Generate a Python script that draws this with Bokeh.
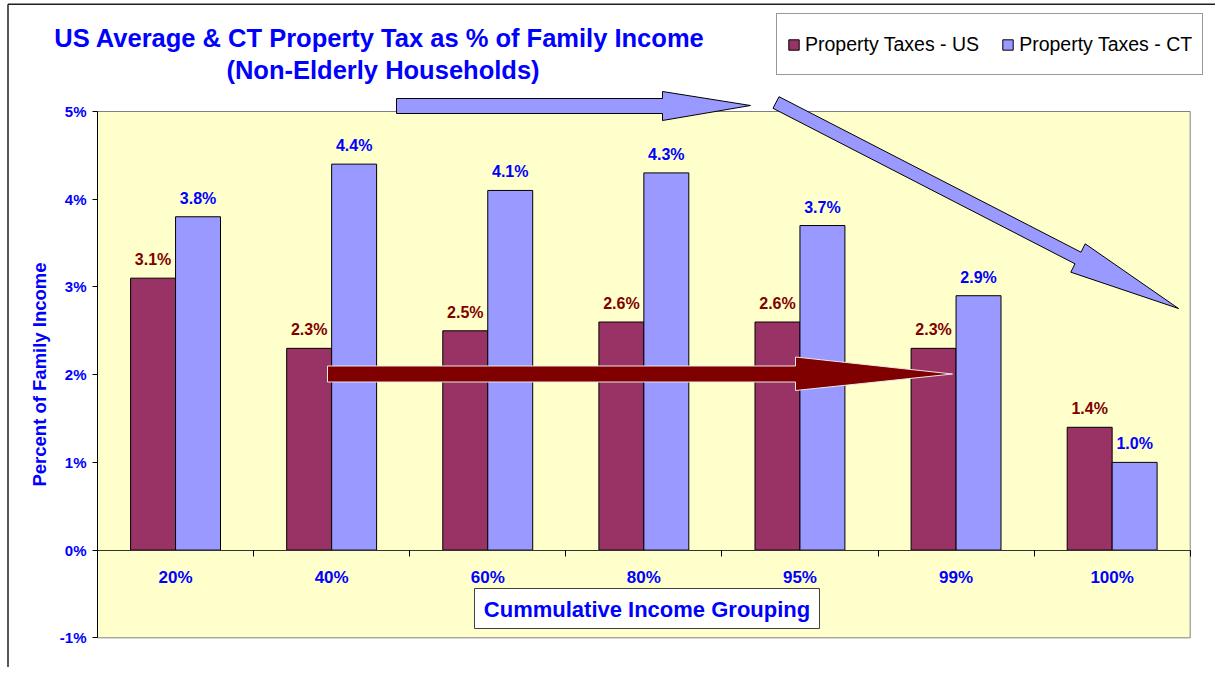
from bokeh.plotting import figure
from bokeh.models import Label, FixedTicker, PrintfTickFormatter, LinearAxis
from bokeh.embed import file_html
from bokeh.resources import INLINE
from bokeh.core.properties import value

# ---------------- data ----------------
categories = ["20%", "40%", "60%", "80%", "95%", "99%", "100%"]
us_values = [3.1, 2.3, 2.5, 2.6, 2.6, 2.3, 1.4]
ct_values = [3.8, 4.4, 4.1, 4.3, 3.7, 2.9, 1.0]
y_ticks = [-1, 0, 1, 2, 3, 4, 5]
series_names = ["Property Taxes - US", "Property Taxes - CT"]
title_lines = ["US Average & CT  Property Tax as % of Family Income",
               "(Non-Elderly Households)"]
x_title = "Cummulative Income Grouping"
y_title = "Percent of Family Income"

# ---------------- layout / style ----------------
FONT = "Liberation Sans"
BLUE = "#0000FF"
DARKRED = "#800000"
US_COLOR = "#993366"
CT_COLOR = "#9999FF"

W, H = 1215, 667
n = len(categories)
Y_MIN, Y_MAX = -1, 5
PX_X = 156.1      # pixels per category
PX_Y = 87.72      # pixels per 1 %
ORIGIN_X = 97.0   # pixel x of plot-area left edge
ORIGIN_Y = 549.6  # pixel y of the 0 % line
BW = 0.288        # bar width (category units)


def dx(px):
    return (px - ORIGIN_X) / PX_X


def dy(py):
    return (ORIGIN_Y - py) / PX_Y


p = figure(width=W, height=H, x_range=(dx(0), dx(W)), y_range=(dy(H), dy(0)),
           output_backend="svg", toolbar_location=None,
           x_axis_location=None, y_axis_location=None,
           min_border_left=0, min_border_right=0, min_border_top=0,
           min_border_bottom=0, background_fill_color="white",
           border_fill_color="white", outline_line_color=None)
p.xgrid.visible = False
p.ygrid.visible = False

# outer chart border (left and top)
p.segment(x0=[dx(7.5), dx(7.5)], y0=[dy(3.8), dy(3.8)], x1=[dx(7.5), dx(W)],
          y1=[dy(H), dy(3.8)], line_color="#202020", line_width=1.5)

# plot area
p.quad(left=0, right=n, bottom=Y_MIN, top=Y_MAX, fill_color="#FFFFCC",
       line_color="#808080", line_width=1)

# y axis (drawn at the plot-area edge)
yax = LinearAxis(fixed_location=0, bounds=(Y_MIN, Y_MAX),
                 ticker=FixedTicker(ticks=y_ticks),
                 formatter=PrintfTickFormatter(format="%d%%"))
yax.minor_tick_line_color = None
yax.major_tick_in = 0
yax.major_tick_out = 5
yax.major_tick_line_color = "black"
yax.axis_line_color = "black"
yax.major_label_standoff = 6
yax.major_label_text_font = FONT
yax.major_label_text_font_style = "bold"
yax.major_label_text_font_size = "15px"
yax.major_label_text_color = BLUE
yax.axis_label = y_title
yax.axis_label_text_font = FONT
yax.axis_label_text_font_style = "bold"
yax.axis_label_text_font_size = "18.5px"
yax.axis_label_text_color = BLUE
yax.axis_label_standoff = 7
p.add_layout(yax, "left")

# bars
centers = [i + 0.5 for i in range(n)]
us_x = [c - BW / 2 for c in centers]
ct_x = [c + BW / 2 for c in centers]
r_us = p.vbar(x=us_x, top=us_values, bottom=0, width=BW, fill_color=US_COLOR,
              line_color="black", line_width=1, legend_label=series_names[0])
r_ct = p.vbar(x=ct_x, top=ct_values, bottom=0, width=BW, fill_color=CT_COLOR,
              line_color="black", line_width=1, legend_label=series_names[1])

# x axis at 0 %: tick marks at category boundaries
xax_ticks = LinearAxis(fixed_location=0, bounds=(0, n),
                       ticker=FixedTicker(ticks=list(range(1, n + 1))))
xax_ticks.minor_tick_line_color = None
xax_ticks.major_tick_in = 0
xax_ticks.major_tick_out = 6
xax_ticks.major_tick_line_color = "black"
xax_ticks.axis_line_color = "#333333"
xax_ticks.major_label_text_font_size = "0px"
xax_ticks.major_label_text_color = None
p.add_layout(xax_ticks, "below")

# x axis category labels at group centres
xax_labels = LinearAxis(fixed_location=0, ticker=FixedTicker(ticks=centers),
                        major_label_overrides={c: t for c, t in zip(centers, categories)})
xax_labels.axis_line_color = None
xax_labels.major_tick_line_color = None
xax_labels.minor_tick_line_color = None
xax_labels.major_tick_out = 0
xax_labels.major_tick_in = 0
xax_labels.major_label_standoff = 18
xax_labels.major_label_text_font = FONT
xax_labels.major_label_text_font_style = "bold"
xax_labels.major_label_text_font_size = "17px"
xax_labels.major_label_text_color = BLUE
p.add_layout(xax_labels, "below")

# data labels
off = 18.5 / PX_Y
p.text(x=us_x, y=[v + off for v in us_values], text=[f"{v:.1f}%" for v in us_values],
       text_font=value(FONT), text_font_style="bold", text_font_size="16px",
       text_color=DARKRED, text_align="center", text_baseline="middle")
p.text(x=ct_x, y=[v + off for v in ct_values], text=[f"{v:.1f}%" for v in ct_values],
       text_font=value(FONT), text_font_style="bold", text_font_size="16px",
       text_color=BLUE, text_align="center", text_baseline="middle")

# x axis title box
p.quad(left=dx(474), right=dx(819), top=dy(588), bottom=dy(628),
       fill_color="white", line_color="#404040", line_width=1)
p.text(x=[dx(646.5)], y=[dy(608.5)], text=[x_title], text_font=value(FONT),
       text_font_style="bold", text_font_size="22px", text_color=BLUE,
       text_align="center", text_baseline="middle")


# arrows (pixel outlines)
def arrow(pts, fill, line):
    p.patch([dx(a) for a, b in pts], [dy(b) for a, b in pts], fill_color=fill,
            line_color=line, line_width=1)


arrow([(396, 98), (662, 98), (662, 91), (750, 105), (662, 120), (662, 113), (396, 113)],
      CT_COLOR, "black")
arrow([(778.5, 96.2), (1080.5, 251.7), (1084.7, 243.3), (1178, 308), (1070.3, 271.7),
       (1074.5, 263.3), (772.5, 107.8)], CT_COLOR, "black")
arrow([(327, 365.5), (795, 365.5), (795, 356.5), (952, 373.5), (795, 390), (795, 381.5),
       (327, 381.5)], DARKRED, "#E8E8E8")

# title
for text, py in zip(title_lines, [37, 69]):
    p.add_layout(Label(x=dx(382.5), y=dy(py), text=text, text_align="center",
                       text_baseline="middle", text_font=FONT, text_font_style="bold",
                       text_font_size="25.5px", text_color=BLUE))

# legend
lg = p.legend[0]
lg.orientation = "horizontal"
lg.location = (776, H - 75)
lg.border_line_color = "#333333"
lg.border_line_width = 1
lg.background_fill_color = "white"
lg.background_fill_alpha = 1
lg.padding = 10
lg.spacing = 22
lg.margin = 0
lg.glyph_width = 13
lg.glyph_height = 13
lg.label_standoff = 5
lg.label_height = 40
lg.label_text_font = FONT
lg.label_text_font_size = "19.5px"
lg.label_text_color = "black"

open("out.html", "w").write(file_html(p, INLINE))
